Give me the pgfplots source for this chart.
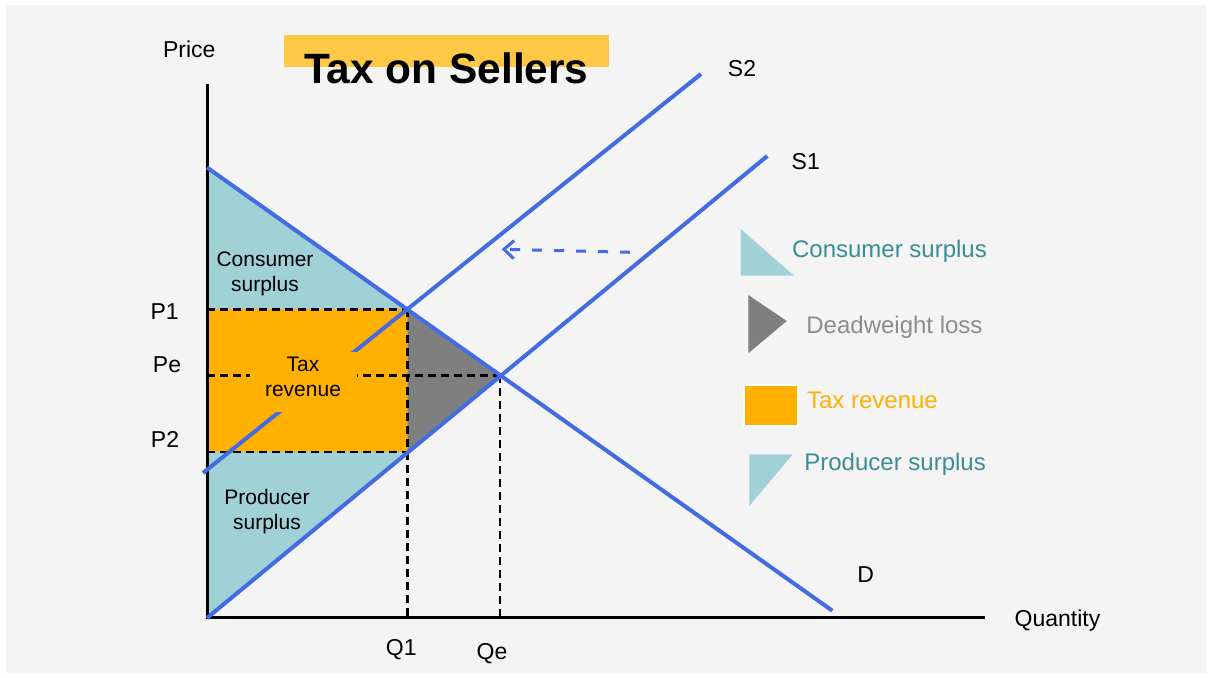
\documentclass[border=0pt]{standalone}
\usepackage{fontspec}
\setmainfont{Liberation Sans}
\usepackage{pgfplots}
\pgfplotsset{compat=1.18}
\usetikzlibrary{arrows.meta}
\definecolor{bg}{RGB}{244,244,244}
\definecolor{lineblue}{RGB}{68,108,226}
\definecolor{csfill}{RGB}{159,209,215}
\definecolor{taxorange}{RGB}{255,176,0}
\definecolor{dwlgray}{RGB}{127,127,127}
\definecolor{titleyellow}{RGB}{255,200,70}
\definecolor{tealtext}{RGB}{58,140,150}
\definecolor{graytext}{RGB}{140,140,140}
\begin{document}
\begin{tikzpicture}
\begin{axis}[
  scale only axis, width=606pt, height=339pt,
  xmin=-207, xmax=1005, ymin=-60, ymax=618,
  hide axis, clip=false,
]
% background
\fill[white] (rel axis cs:0,0) rectangle (rel axis cs:1,1);
\fill[bg] (axis cs:-201,-55) rectangle (axis cs:999,613);
% title highlight
\addplot[fill=titleyellow, draw=none] coordinates {(77,550.7) (402,550.7) (402,583) (77,583)} -- cycle;
% areas
\addplot[fill=csfill, draw=none] coordinates {(0,450.5) (200.5,308.5) (0,308.5)} -- cycle;
\addplot[fill=taxorange, draw=none] coordinates {(0,166) (200.5,166) (200.5,308.5) (0,308.5)} -- cycle;
\addplot[fill=dwlgray, draw=none] coordinates {(200.5,308.5) (293,242.5) (200.5,166)} -- cycle;
\addplot[fill=csfill, draw=none] coordinates {(0,0) (200.5,166) (0,166)} -- cycle;
% dashed guide lines
\addplot[black, line width=1.05pt, dash pattern=on 4pt off 2.5pt] coordinates {(0,308.5) (200.5,308.5)};
\addplot[black, line width=1.05pt, dash pattern=on 4pt off 2.5pt] coordinates {(0,242.5) (293,242.5)};
\addplot[black, line width=1.05pt, dash pattern=on 4pt off 2.5pt] coordinates {(0,166) (200.5,166)};
\addplot[black, line width=1.05pt, dash pattern=on 4pt off 2.5pt] coordinates {(200.5,308.5) (200.5,0)};
\addplot[black, line width=1.05pt, dash pattern=on 4pt off 2.5pt] coordinates {(293,242.5) (293,0)};
% axes
\addplot[black, line width=1.5pt] coordinates {(0,534) (0,0) (778,0)};
% curves
\addplot[lineblue, line width=2pt] coordinates {(0,450.5) (625.3,7.3)};
\addplot[lineblue, line width=2pt] coordinates {(0,0) (560.3,462)};
\addplot[lineblue, line width=2pt] coordinates {(-4,145) (494,544)};
% shift arrow
\addplot[lineblue, line width=1.5pt, dash pattern=on 5pt off 6pt, -{Straight Barb[length=5pt,width=9pt]}] coordinates {(423,365.7) (294.7,368.7)};
% tax revenue label box
\addplot[fill=taxorange, draw=none] coordinates {(43,206) (150,206) (150,266) (43,266)} -- cycle;
% in-chart labels
\node[anchor=base, font=\fontsize{10.5}{12}\selectfont] at (axis cs:58,351.3) {Consumer};
\node[anchor=base, font=\fontsize{10.5}{12}\selectfont] at (axis cs:58,326.3) {surplus};
\node[anchor=base, font=\fontsize{10.5}{12}\selectfont] at (axis cs:96,246.3) {Tax};
\node[anchor=base, font=\fontsize{10.5}{12}\selectfont] at (axis cs:96,221.3) {revenue};
\node[anchor=base, font=\fontsize{10.5}{12}\selectfont] at (axis cs:60,113.7) {Producer};
\node[anchor=base, font=\fontsize{10.5}{12}\selectfont] at (axis cs:60,88) {surplus};
% axis labels
\node[anchor=base, font=\fontsize{11.5}{13}\selectfont] at (axis cs:-17.7,560.3) {Price};
\node[anchor=base, font=\fontsize{11.5}{13}\selectfont] at (axis cs:850.5,-8.3) {Quantity};
\node[anchor=base, font=\fontsize{11.5}{13}\selectfont] at (axis cs:-42.3,298.7) {P1};
\node[anchor=base, font=\fontsize{11.5}{13}\selectfont] at (axis cs:-40,245.3) {Pe};
\node[anchor=base, font=\fontsize{11.5}{13}\selectfont] at (axis cs:-42,170.5) {P2};
\node[anchor=base, font=\fontsize{11.5}{13}\selectfont] at (axis cs:194.3,-38) {Q1};
\node[anchor=base, font=\fontsize{11.5}{13}\selectfont] at (axis cs:285,-42) {Qe};
\node[anchor=base, font=\fontsize{11.5}{13}\selectfont] at (axis cs:535,541.3) {S2};
\node[anchor=base, font=\fontsize{11.5}{13}\selectfont] at (axis cs:598.8,448.7) {S1};
\node[anchor=base, font=\fontsize{11.5}{13}\selectfont] at (axis cs:658.8,35.7) {D};
% title
\node[anchor=base, font=\fontsize{21.2}{24}\selectfont\bfseries] at (axis cs:239.3,534.7) {Tax on Sellers};
% legend shapes
\addplot[fill=csfill, draw=none] coordinates {(533.7,389) (533.7,342.3) (587,342.3)} -- cycle;
\addplot[fill=dwlgray, draw=none] coordinates {(541.3,323) (541.3,264.7) (579.7,297)} -- cycle;
\addplot[fill=taxorange, draw=white, line width=1pt] coordinates {(536.7,191.7) (591,191.7) (591,232.7) (536.7,232.7)} -- cycle;
\addplot[fill=csfill, draw=none] coordinates {(542.3,163.7) (585.7,163.7) (542.3,112)} -- cycle;
% legend texts
\node[anchor=base west, inner sep=0pt, text=tealtext, font=\fontsize{12}{14}\selectfont] at (axis cs:584.7,360.3) {Consumer surplus};
\node[anchor=base west, inner sep=0pt, text=graytext, font=\fontsize{12}{14}\selectfont] at (axis cs:599,284.7) {Deadweight loss};
\node[anchor=base west, inner sep=0pt, text=taxorange, font=\fontsize{12}{14}\selectfont] at (axis cs:599.7,209) {Tax revenue};
\node[anchor=base west, inner sep=0pt, text=tealtext, font=\fontsize{12}{14}\selectfont] at (axis cs:597,147) {Producer surplus};
\end{axis}
\end{tikzpicture}
\end{document}
